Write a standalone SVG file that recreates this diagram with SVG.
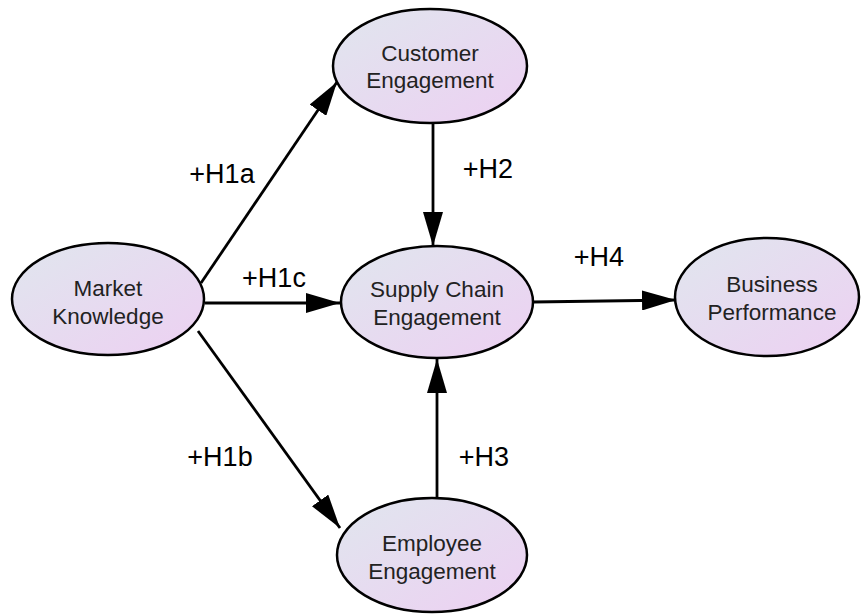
<svg xmlns="http://www.w3.org/2000/svg" width="861" height="614" viewBox="0 0 861 614">
<defs>
<linearGradient id="g" x1="0" y1="0" x2="1" y2="1">
<stop offset="0" stop-color="#e0e6ee"/>
<stop offset="1" stop-color="#edd0f2"/>
</linearGradient>
<marker id="ah" viewBox="0 0 34 20" refX="34" refY="10" markerWidth="34" markerHeight="20" markerUnits="userSpaceOnUse" orient="auto">
<path d="M0,0 L34,10 L0,20 Z" fill="#000"/>
</marker>
<style>
.n ellipse{fill:url(#g);stroke:#000;stroke-width:2.5}
.n text{font-family:"Liberation Sans",Arial,sans-serif;font-size:22.5px;fill:#222;text-anchor:middle}
.c line{stroke:#000;stroke-width:2.8;marker-end:url(#ah)}
.l{font-family:"Liberation Sans",Arial,sans-serif;font-size:27px;fill:#000;text-anchor:middle}
</style>
</defs>
<g id="connectors" class="c">
<line x1="201" y1="283" x2="337" y2="82"/>
<line x1="205" y1="303" x2="340" y2="303"/>
<line x1="198" y1="331" x2="340" y2="528"/>
<line x1="433" y1="124" x2="433" y2="246"/>
<line x1="437" y1="497" x2="437" y2="359"/>
<line x1="533" y1="302" x2="676" y2="300"/>
</g>
<g id="customer" class="n">
<ellipse cx="430" cy="66" rx="97" ry="57"/>
<text x="430" y="61">Customer</text>
<text x="430" y="88">Engagement</text>
</g>
<g id="market" class="n">
<ellipse cx="108" cy="299" rx="96" ry="56"/>
<text x="108" y="296">Market</text>
<text x="108" y="324">Knowledge</text>
</g>
<g id="supply" class="n">
<ellipse cx="437" cy="302" rx="96" ry="56"/>
<text x="437" y="297">Supply Chain</text>
<text x="437" y="325">Engagement</text>
</g>
<g id="business" class="n">
<ellipse cx="767" cy="297" rx="92" ry="59"/>
<text x="772" y="292">Business</text>
<text x="772" y="320">Performance</text>
</g>
<g id="employee" class="n">
<ellipse cx="432" cy="555" rx="95" ry="57"/>
<text x="432" y="551">Employee</text>
<text x="432" y="579">Engagement</text>
</g>
<g id="labels">
<text class="l" x="222" y="183">+H1a</text>
<text class="l" x="274" y="287">+H1c</text>
<text class="l" x="488" y="178">+H2</text>
<text class="l" x="599" y="266">+H4</text>
<text class="l" x="220" y="466">+H1b</text>
<text class="l" x="484" y="466">+H3</text>
</g>
</svg>
